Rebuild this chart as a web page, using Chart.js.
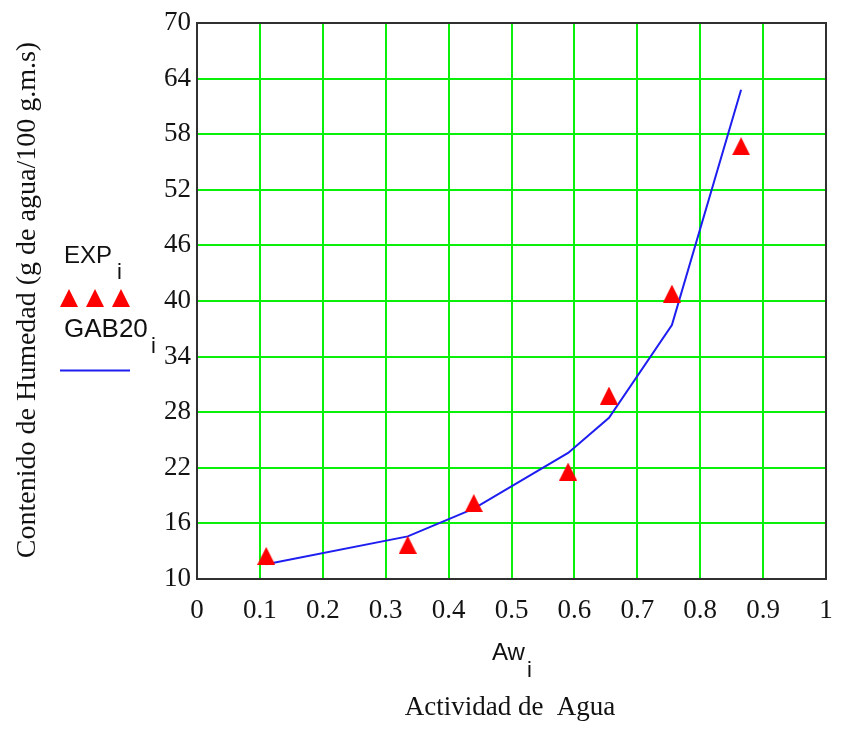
<!DOCTYPE html>
<html>
<head>
<meta charset="utf-8">
<script src="https://cdn.jsdelivr.net/npm/chart.js@4.4.1/dist/chart.umd.min.js"></script>
<style>
  html, body { margin: 0; padding: 0; background: #ffffff; }
  #wrap { width: 841px; height: 733px; position: relative; }
</style>
</head>
<body>
<div id="wrap"><canvas id="c" width="841" height="733"></canvas></div>
<script>
// ---- data ----
const awValues   = [0.11, 0.335, 0.44, 0.59, 0.655, 0.755, 0.865];
const expValues  = [12.5, 13.7, 18.2, 21.6, 29.8, 40.8, 56.7];
const gabValues  = [11.6, 14.6, 17.6, 23.6, 27.4, 37.4, 62.8];
const xTickValues = [0, 0.1, 0.2, 0.3, 0.4, 0.5, 0.6, 0.7, 0.8, 0.9, 1];
const yTickValues = [10, 16, 22, 28, 34, 40, 46, 52, 58, 64, 70];
const xTickLabels = ['0', '0.1', '0.2', '0.3', '0.4', '0.5', '0.6', '0.7', '0.8', '0.9', '1'];
const yTickLabels = ['10', '16', '22', '28', '34', '40', '46', '52', '58', '64', '70'];
const seriesNames = ['EXP', 'GAB20'];
const xTitle = 'Aw';
const xSubtitle = 'Actividad de  Agua';
const yTitle = 'Contenido de Humedad (g de agua/100 g.m.s)';

const SERIF = '"Liberation Serif", "DejaVu Serif", serif';
const SANS = '"Liberation Sans", Arial, sans-serif';
const GRID = 'rgb(10,240,10)';
const RED = '#ff0000';
const BLUE = 'rgb(30,30,240)';

const expData = awValues.map((x, i) => ({ x, y: expValues[i] }));
const gabData = awValues.map((x, i) => ({ x, y: gabValues[i] }));

// triangle marker image (style only)
function makeTriangle(w, h) {
  const c = document.createElement('canvas');
  c.width = w; c.height = h;
  const g = c.getContext('2d');
  g.fillStyle = RED;
  g.beginPath();
  g.moveTo(w / 2, 0);
  g.lineTo(w, h);
  g.lineTo(0, h);
  g.closePath();
  g.fill();
  return c;
}
const triImg = makeTriangle(18, 18);

const decor = {
  id: 'decor',
  afterDraw(chart) {
    const ctx = chart.ctx;
    const a = chart.chartArea;
    ctx.save();
    // frame
    ctx.strokeStyle = '#303030';
    ctx.lineWidth = 2;
    ctx.strokeRect(a.left, a.top, a.right - a.left, a.bottom - a.top);

    ctx.fillStyle = '#111';
    // legend
    ctx.font = '24px ' + SANS;
    ctx.textBaseline = 'alphabetic';
    ctx.textAlign = 'left';
    ctx.fillText(seriesNames[0], 64, 263);
    ctx.font = '22px ' + SANS;
    ctx.fillText('i', 117, 279);
    // triangles
    [69, 95, 121].forEach(cx => ctx.drawImage(triImg, cx - 9, 289));
    ctx.fillStyle = '#111';
    ctx.font = '26px ' + SANS;
    ctx.fillText(seriesNames[1], 64, 337);
    ctx.font = '22px ' + SANS;
    ctx.fillText('i', 151, 353);
    ctx.strokeStyle = BLUE;
    ctx.lineWidth = 2;
    ctx.beginPath();
    ctx.moveTo(60, 370.5);
    ctx.lineTo(130, 370.5);
    ctx.stroke();

    // x title
    ctx.fillStyle = '#111';
    ctx.font = '24px ' + SANS;
    ctx.textAlign = 'left';
    const xw = ctx.measureText(xTitle).width;
    ctx.fillText(xTitle, 492, 660);
    ctx.font = '22px ' + SANS;
    ctx.fillText('i', 492 + xw + 2, 677);
    ctx.font = '27px ' + SERIF;
    ctx.textAlign = 'center';
    ctx.fillText(xSubtitle, 510, 715);

    // y title
    ctx.translate(35, 300);
    ctx.rotate(-Math.PI / 2);
    ctx.font = '28px ' + SERIF;
    ctx.textAlign = 'center';
    ctx.fillText(yTitle, 0, 0);
    ctx.restore();
  }
};

new Chart(document.getElementById('c'), {
  type: 'scatter',
  data: {
    datasets: [
      {
        label: seriesNames[1],
        data: gabData,
        showLine: true,
        borderColor: BLUE,
        borderWidth: 2,
        pointRadius: 0,
        tension: 0,
        fill: false,
        order: 2
      },
      {
        label: seriesNames[0],
        data: expData,
        showLine: false,
        pointStyle: triImg,
        pointRadius: 9,
        backgroundColor: RED,
        borderColor: RED,
        borderWidth: 0,
        order: 1
      }
    ]
  },
  plugins: [decor],
  options: {
    responsive: false,
    animation: false,
    devicePixelRatio: 1,
    layout: { padding: { top: 23, right: 15, left: 0, bottom: 0 } },
    plugins: { legend: { display: false }, tooltip: { enabled: false }, title: { display: false } },
    scales: {
      x: {
        type: 'linear',
        min: 0, max: 1,
        afterBuildTicks(scale) { scale.ticks = xTickValues.map(v => ({ value: v })); },
        afterFit(scale) { scale.height = 154; scale.paddingLeft = 0; scale.paddingRight = 0; },
        grid: { color: GRID, lineWidth: 2, drawTicks: false },
        border: { display: false },
        ticks: {
          padding: 16,
          color: '#141414',
          font: { family: SERIF, size: 27 },
          maxRotation: 0,
          autoSkip: false,
          callback: (v, i) => xTickLabels[i]
        }
      },
      y: {
        type: 'linear',
        min: 10, max: 70,
        afterBuildTicks(scale) { scale.ticks = yTickValues.map(v => ({ value: v })); },
        afterFit(scale) { scale.width = 197; scale.paddingTop = 0; scale.paddingBottom = 0; },
        grid: { color: GRID, lineWidth: 2, drawTicks: false },
        border: { display: false },
        ticks: {
          padding: 6,
          color: '#141414',
          font: { family: SERIF, size: 27 },
          autoSkip: false,
          callback: (v, i) => yTickLabels[i]
        }
      }
    }
  }
});
</script>
</body>
</html>
